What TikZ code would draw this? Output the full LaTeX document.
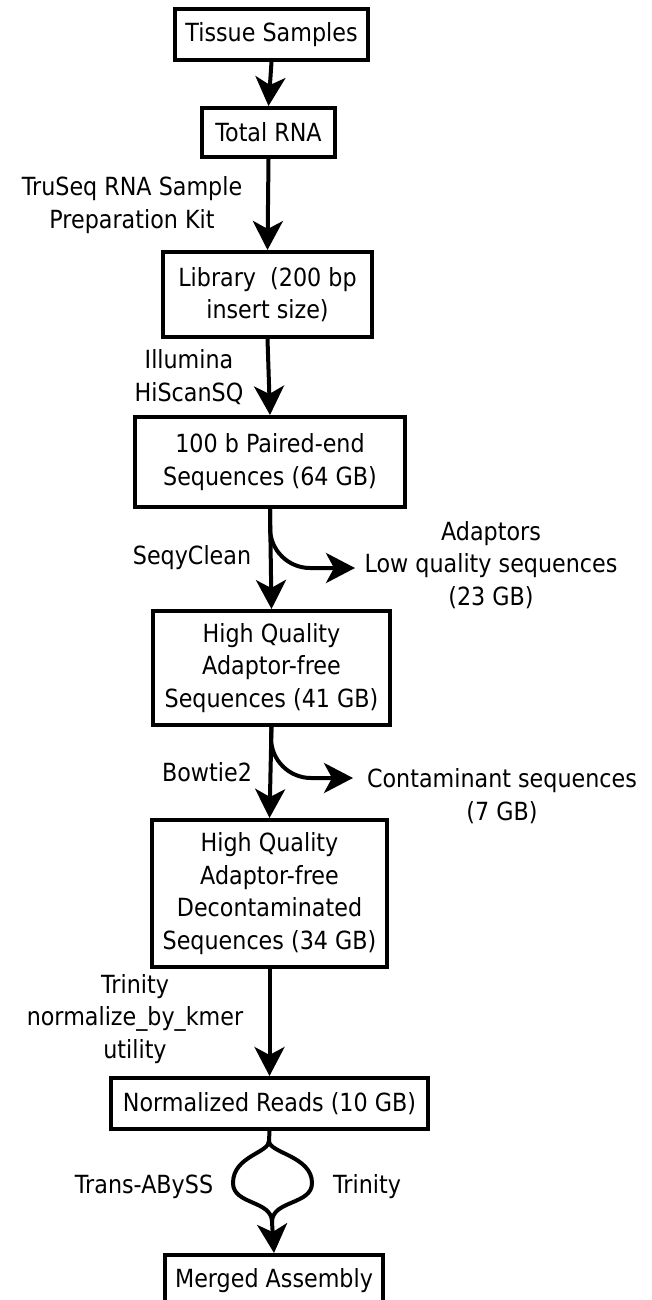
\documentclass[tikz,border=0pt]{standalone}
\usepackage{fontspec}
\setmainfont{DejaVu Sans}[FakeStretch=0.89]
\usetikzlibrary{arrows.meta}
\begin{document}
\begin{tikzpicture}[x=1pt,y=-1pt,
  every node/.style={font=\fontsize{25}{32.5}\selectfont},
  box/.style={draw, line width=4pt, inner sep=0pt, align=center},
  lbl/.style={inner sep=0pt, align=center},
  arr/.style={line width=4pt, -{Stealth[length=29pt,width=30pt,inset=8pt]}},
  flow/.style={line width=4pt}]
\clip (0,0) rectangle (651,1300);
\fill[white] (0,0) rectangle (651,1300);

% process boxes
\node[box, minimum width=193pt, minimum height=51pt] (tissue) at (271.5,34.5) {Tissue Samples};
\node[box, minimum width=133pt, minimum height=49pt] (total) at (268.5,132.5) {Total RNA};
\node[box, minimum width=209pt, minimum height=85pt] (library) at (267.5,294.5) {Library\ \ (200 bp\\insert size)};
\node[box, minimum width=270pt, minimum height=90pt] (paired) at (270,462) {100 b Paired-end\\Sequences (64 GB)};
\node[box, minimum width=237pt, minimum height=114pt] (hq) at (271.5,668) {High Quality\\Adaptor-free\\Sequences (41 GB)};
\node[box, minimum width=235pt, minimum height=147pt] (hqd) at (269.5,893.5) {High Quality\\Adaptor-free\\Decontaminated\\Sequences (34 GB)};
\node[box, minimum width=317pt, minimum height=51pt] (norm) at (269.5,1103.5) {Normalized Reads (10 GB)};
\node[box, minimum width=218pt, minimum height=52pt] (merged) at (274,1281) {Merged Assembly};

% step labels
\node[lbl] (truseq) at (132,205) {TruSeq RNA Sample\\Preparation Kit};
\node[lbl] (illumina) at (189,377) {Illumina\\HiScanSQ};
\node[lbl] (seqy) at (192,558) {SeqyClean};
\node[lbl] (adapt) at (491,565) {Adaptors\\Low quality sequences\\(23 GB)};
\node[lbl] (bowtie) at (207,772) {Bowtie2};
\node[lbl] (contam) at (502,796) {Contaminant sequences\\(7 GB)};
\node[lbl] (trinnorm) at (135,1019) {Trinity\\normalize\_by\_kmer\\utility};
\node[lbl] (transabyss) at (144,1187) {Trans-ABySS};
\node[lbl] (trinity) at (367,1187) {Trinity};

% junction points
\coordinate (rej1) at (355,568);
\coordinate (rej2) at (353,778);
\coordinate (fork) at (269,1141);
\coordinate (join) at (272,1222);

% main flow
\draw[arr] (tissue.south) -- (total.north);
\draw[arr] (total.south) -- (library.north);
\draw[arr] (library.south) -- (paired.north);
\draw[arr] (paired.south) -- (hq.north);
\draw[arr] (hq.south) -- (hqd.north);
\draw[arr] (hqd.south) -- (norm.north);

% rejected reads
\draw[arr] (paired.south) -- (270,528) .. controls (270,550) and (288,568) .. (310,568) -- (rej1);
\draw[arr] (hq.south) -- (271,738) .. controls (271,760) and (289,778) .. (311,778) -- (rej2);

% two assemblers merged
\draw[flow] (norm.south) -- (fork);
\draw[flow] (fork) .. controls (269,1153) and (233,1156) .. (233,1183)
                   .. controls (233,1205) and (272,1200) .. (join);
\draw[flow] (fork) .. controls (269,1153) and (312,1156) .. (312,1183)
                   .. controls (312,1205) and (272,1200) .. (join);
\draw[arr] (join) -- (merged.north);
\end{tikzpicture}
\end{document}
